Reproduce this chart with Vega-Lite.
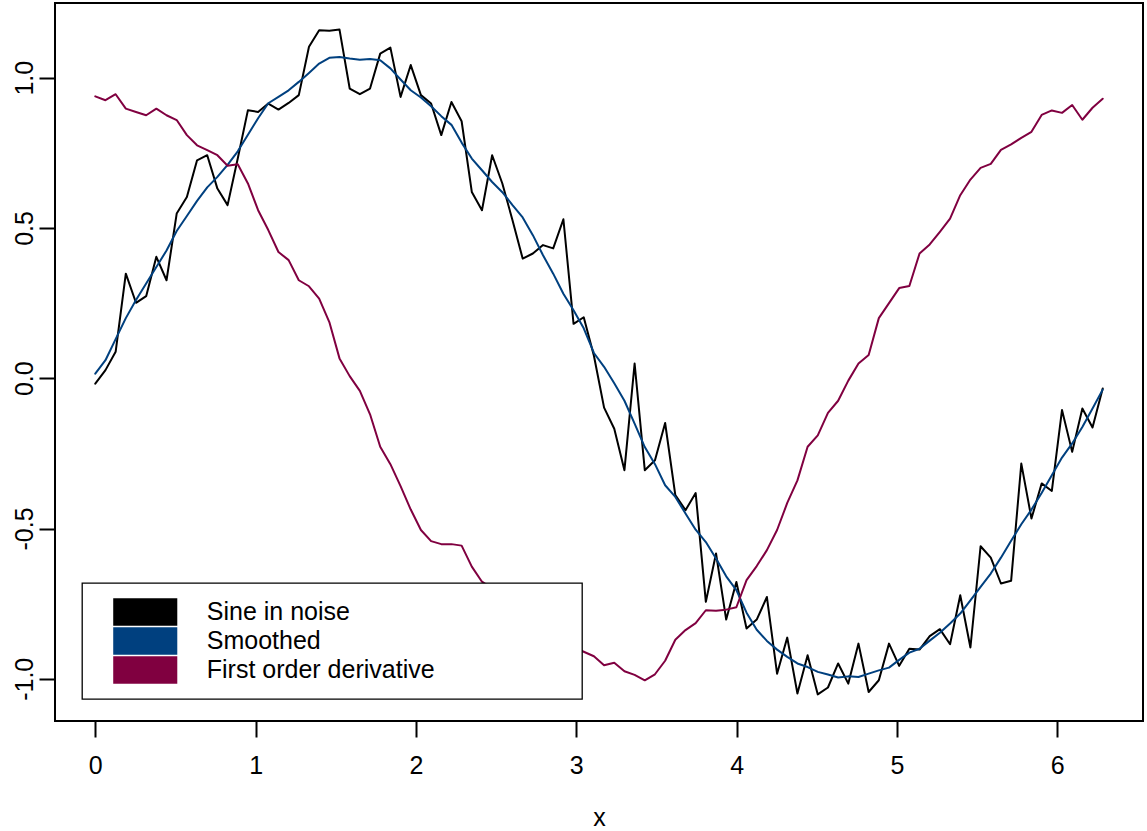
{
  "$schema": "https://vega.github.io/schema/vega-lite/v6.json",
  "width": 1088,
  "height": 718,
  "autosize": {"type": "none"},
  "padding": {"left": 55, "top": 3, "right": 4, "bottom": 110},
  "background": "white",
  "config": {
    "font": "Liberation Sans",
    "view": {"stroke": "black", "strokeWidth": 2}
  },
  "data": {
    "values": [
      {"x": 0, "Sine in noise": -0.018, "Smoothed": 0.015, "First order derivative": 0.938},
      {"x": 0.0635, "Sine in noise": 0.027, "Smoothed": 0.06, "First order derivative": 0.925},
      {"x": 0.1269, "Sine in noise": 0.088, "Smoothed": 0.13, "First order derivative": 0.945},
      {"x": 0.1904, "Sine in noise": 0.348, "Smoothed": 0.2, "First order derivative": 0.897},
      {"x": 0.2539, "Sine in noise": 0.251, "Smoothed": 0.26, "First order derivative": 0.886},
      {"x": 0.3173, "Sine in noise": 0.273, "Smoothed": 0.315, "First order derivative": 0.875},
      {"x": 0.3808, "Sine in noise": 0.404, "Smoothed": 0.37, "First order derivative": 0.897},
      {"x": 0.4443, "Sine in noise": 0.326, "Smoothed": 0.425, "First order derivative": 0.875},
      {"x": 0.5077, "Sine in noise": 0.548, "Smoothed": 0.49, "First order derivative": 0.859},
      {"x": 0.5712, "Sine in noise": 0.603, "Smoothed": 0.54, "First order derivative": 0.809},
      {"x": 0.6347, "Sine in noise": 0.725, "Smoothed": 0.59, "First order derivative": 0.775},
      {"x": 0.6981, "Sine in noise": 0.742, "Smoothed": 0.635, "First order derivative": 0.759},
      {"x": 0.7616, "Sine in noise": 0.631, "Smoothed": 0.67, "First order derivative": 0.742},
      {"x": 0.8251, "Sine in noise": 0.576, "Smoothed": 0.71, "First order derivative": 0.707},
      {"x": 0.8885, "Sine in noise": 0.731, "Smoothed": 0.755, "First order derivative": 0.712},
      {"x": 0.952, "Sine in noise": 0.892, "Smoothed": 0.81, "First order derivative": 0.648},
      {"x": 1.0155, "Sine in noise": 0.886, "Smoothed": 0.865, "First order derivative": 0.559},
      {"x": 1.0789, "Sine in noise": 0.914, "Smoothed": 0.915, "First order derivative": 0.493},
      {"x": 1.1424, "Sine in noise": 0.894, "Smoothed": 0.936, "First order derivative": 0.42},
      {"x": 1.2059, "Sine in noise": 0.916, "Smoothed": 0.958, "First order derivative": 0.393},
      {"x": 1.2693, "Sine in noise": 0.942, "Smoothed": 0.986, "First order derivative": 0.326},
      {"x": 1.3328, "Sine in noise": 1.103, "Smoothed": 1.016, "First order derivative": 0.306},
      {"x": 1.3963, "Sine in noise": 1.158, "Smoothed": 1.047, "First order derivative": 0.265},
      {"x": 1.4597, "Sine in noise": 1.156, "Smoothed": 1.066, "First order derivative": 0.187},
      {"x": 1.5232, "Sine in noise": 1.16, "Smoothed": 1.069, "First order derivative": 0.066},
      {"x": 1.5867, "Sine in noise": 0.964, "Smoothed": 1.064, "First order derivative": 0.007},
      {"x": 1.6501, "Sine in noise": 0.945, "Smoothed": 1.06, "First order derivative": -0.042},
      {"x": 1.7136, "Sine in noise": 0.964, "Smoothed": 1.062, "First order derivative": -0.12},
      {"x": 1.7771, "Sine in noise": 1.08, "Smoothed": 1.058, "First order derivative": -0.228},
      {"x": 1.8405, "Sine in noise": 1.1, "Smoothed": 1.031, "First order derivative": -0.286},
      {"x": 1.904, "Sine in noise": 0.936, "Smoothed": 0.994, "First order derivative": -0.359},
      {"x": 1.9675, "Sine in noise": 1.042, "Smoothed": 0.958, "First order derivative": -0.437},
      {"x": 2.0309, "Sine in noise": 0.942, "Smoothed": 0.934, "First order derivative": -0.505},
      {"x": 2.0944, "Sine in noise": 0.914, "Smoothed": 0.905, "First order derivative": -0.542},
      {"x": 2.1579, "Sine in noise": 0.809, "Smoothed": 0.872, "First order derivative": -0.552},
      {"x": 2.2213, "Sine in noise": 0.919, "Smoothed": 0.843, "First order derivative": -0.552},
      {"x": 2.2848, "Sine in noise": 0.855, "Smoothed": 0.784, "First order derivative": -0.557},
      {"x": 2.3483, "Sine in noise": 0.62, "Smoothed": 0.731, "First order derivative": -0.627},
      {"x": 2.4117, "Sine in noise": 0.559, "Smoothed": 0.692, "First order derivative": -0.677},
      {"x": 2.4752, "Sine in noise": 0.742, "Smoothed": 0.653, "First order derivative": -0.7},
      {"x": 2.5387, "Sine in noise": 0.648, "Smoothed": 0.619, "First order derivative": -0.735},
      {"x": 2.6021, "Sine in noise": 0.526, "Smoothed": 0.576, "First order derivative": -0.76},
      {"x": 2.6656, "Sine in noise": 0.398, "Smoothed": 0.535, "First order derivative": -0.79},
      {"x": 2.7291, "Sine in noise": 0.415, "Smoothed": 0.476, "First order derivative": -0.81},
      {"x": 2.7925, "Sine in noise": 0.443, "Smoothed": 0.409, "First order derivative": -0.835},
      {"x": 2.856, "Sine in noise": 0.432, "Smoothed": 0.348, "First order derivative": -0.86},
      {"x": 2.9195, "Sine in noise": 0.529, "Smoothed": 0.281, "First order derivative": -0.875},
      {"x": 2.9829, "Sine in noise": 0.181, "Smoothed": 0.226, "First order derivative": -0.895},
      {"x": 3.0464, "Sine in noise": 0.203, "Smoothed": 0.166, "First order derivative": -0.91},
      {"x": 3.1099, "Sine in noise": 0.075, "Smoothed": 0.084, "First order derivative": -0.925},
      {"x": 3.1733, "Sine in noise": -0.098, "Smoothed": 0.038, "First order derivative": -0.955},
      {"x": 3.2368, "Sine in noise": -0.168, "Smoothed": -0.017, "First order derivative": -0.947},
      {"x": 3.3003, "Sine in noise": -0.306, "Smoothed": -0.075, "First order derivative": -0.975},
      {"x": 3.3637, "Sine in noise": 0.049, "Smoothed": -0.151, "First order derivative": -0.987},
      {"x": 3.4272, "Sine in noise": -0.306, "Smoothed": -0.229, "First order derivative": -1.005},
      {"x": 3.4907, "Sine in noise": -0.273, "Smoothed": -0.286, "First order derivative": -0.985},
      {"x": 3.5541, "Sine in noise": -0.149, "Smoothed": -0.356, "First order derivative": -0.94},
      {"x": 3.6176, "Sine in noise": -0.389, "Smoothed": -0.395, "First order derivative": -0.87},
      {"x": 3.6811, "Sine in noise": -0.439, "Smoothed": -0.45, "First order derivative": -0.838},
      {"x": 3.7445, "Sine in noise": -0.382, "Smoothed": -0.504, "First order derivative": -0.815},
      {"x": 3.808, "Sine in noise": -0.744, "Smoothed": -0.545, "First order derivative": -0.772},
      {"x": 3.8715, "Sine in noise": -0.583, "Smoothed": -0.6, "First order derivative": -0.774},
      {"x": 3.9349, "Sine in noise": -0.803, "Smoothed": -0.659, "First order derivative": -0.77},
      {"x": 3.9984, "Sine in noise": -0.678, "Smoothed": -0.705, "First order derivative": -0.762},
      {"x": 4.0619, "Sine in noise": -0.833, "Smoothed": -0.78, "First order derivative": -0.672},
      {"x": 4.1253, "Sine in noise": -0.803, "Smoothed": -0.837, "First order derivative": -0.625},
      {"x": 4.1888, "Sine in noise": -0.728, "Smoothed": -0.874, "First order derivative": -0.572},
      {"x": 4.2523, "Sine in noise": -0.983, "Smoothed": -0.903, "First order derivative": -0.505},
      {"x": 4.3157, "Sine in noise": -0.863, "Smoothed": -0.927, "First order derivative": -0.415},
      {"x": 4.3792, "Sine in noise": -1.049, "Smoothed": -0.949, "First order derivative": -0.34},
      {"x": 4.4427, "Sine in noise": -0.922, "Smoothed": -0.961, "First order derivative": -0.228},
      {"x": 4.5061, "Sine in noise": -1.052, "Smoothed": -0.977, "First order derivative": -0.19},
      {"x": 4.5696, "Sine in noise": -1.029, "Smoothed": -0.986, "First order derivative": -0.115},
      {"x": 4.6331, "Sine in noise": -0.949, "Smoothed": -0.996, "First order derivative": -0.075},
      {"x": 4.6965, "Sine in noise": -1.016, "Smoothed": -0.992, "First order derivative": -0.008},
      {"x": 4.76, "Sine in noise": -0.883, "Smoothed": -0.994, "First order derivative": 0.049},
      {"x": 4.8235, "Sine in noise": -1.044, "Smoothed": -0.983, "First order derivative": 0.077},
      {"x": 4.8869, "Sine in noise": -1.005, "Smoothed": -0.972, "First order derivative": 0.2},
      {"x": 4.9504, "Sine in noise": -0.883, "Smoothed": -0.963, "First order derivative": 0.25},
      {"x": 5.0139, "Sine in noise": -0.957, "Smoothed": -0.937, "First order derivative": 0.3},
      {"x": 5.0773, "Sine in noise": -0.9, "Smoothed": -0.913, "First order derivative": 0.307},
      {"x": 5.1408, "Sine in noise": -0.903, "Smoothed": -0.9, "First order derivative": 0.415},
      {"x": 5.2043, "Sine in noise": -0.858, "Smoothed": -0.873, "First order derivative": 0.445},
      {"x": 5.2677, "Sine in noise": -0.835, "Smoothed": -0.847, "First order derivative": 0.487},
      {"x": 5.3312, "Sine in noise": -0.885, "Smoothed": -0.816, "First order derivative": 0.531},
      {"x": 5.3947, "Sine in noise": -0.722, "Smoothed": -0.783, "First order derivative": 0.609},
      {"x": 5.4581, "Sine in noise": -0.896, "Smoothed": -0.739, "First order derivative": 0.661},
      {"x": 5.5216, "Sine in noise": -0.559, "Smoothed": -0.694, "First order derivative": 0.7},
      {"x": 5.5851, "Sine in noise": -0.597, "Smoothed": -0.65, "First order derivative": 0.713},
      {"x": 5.6485, "Sine in noise": -0.683, "Smoothed": -0.597, "First order derivative": 0.76},
      {"x": 5.712, "Sine in noise": -0.674, "Smoothed": -0.541, "First order derivative": 0.778},
      {"x": 5.7755, "Sine in noise": -0.284, "Smoothed": -0.486, "First order derivative": 0.8},
      {"x": 5.8389, "Sine in noise": -0.467, "Smoothed": -0.437, "First order derivative": 0.82},
      {"x": 5.9024, "Sine in noise": -0.35, "Smoothed": -0.382, "First order derivative": 0.876},
      {"x": 5.9659, "Sine in noise": -0.375, "Smoothed": -0.323, "First order derivative": 0.891},
      {"x": 6.0293, "Sine in noise": -0.106, "Smoothed": -0.264, "First order derivative": 0.883},
      {"x": 6.0928, "Sine in noise": -0.245, "Smoothed": -0.217, "First order derivative": 0.909},
      {"x": 6.1563, "Sine in noise": -0.101, "Smoothed": -0.162, "First order derivative": 0.86},
      {"x": 6.2197, "Sine in noise": -0.164, "Smoothed": -0.101, "First order derivative": 0.9},
      {"x": 6.2832, "Sine in noise": -0.034, "Smoothed": -0.038, "First order derivative": 0.93}
    ]
  },
  "transform": [
    {"fold": ["Sine in noise", "Smoothed", "First order derivative"], "as": ["series", "value"]}
  ],
  "mark": {"type": "line", "strokeWidth": 2, "strokeJoin": "round", "strokeCap": "round"},
  "encoding": {
    "x": {
      "field": "x",
      "type": "quantitative",
      "scale": {"domain": [-0.2513, 6.5345], "nice": false, "zero": false},
      "axis": {
        "values": [0, 1, 2, 3, 4, 5, 6],
        "domain": false,
        "grid": false,
        "tickSize": 16,
        "tickWidth": 2,
        "tickColor": "black",
        "labelFontSize": 25,
        "labelColor": "black",
        "labelPadding": 16,
        "labelFlush": false,
        "labelOverlap": false,
        "title": "x",
        "titleFontSize": 25,
        "titleFontWeight": "normal",
        "titleColor": "black",
        "titlePadding": 27
      }
    },
    "y": {
      "field": "value",
      "type": "quantitative",
      "scale": {"domain": [-1.1405, 1.2485], "nice": false, "zero": false},
      "axis": {
        "values": [-1, -0.5, 0, 0.5, 1],
        "labelExpr": "replace(format(datum.value, '.1f'), '\u2212', '-')",
        "domain": false,
        "grid": false,
        "tickSize": 16,
        "tickWidth": 2,
        "tickColor": "black",
        "labelFontSize": 25,
        "labelColor": "black",
        "labelAngle": -90,
        "labelAlign": "center",
        "labelBaseline": "alphabetic",
        "labelPadding": 7,
        "labelFlush": false,
        "labelOverlap": false,
        "title": null
      }
    },
    "color": {
      "field": "series",
      "type": "nominal",
      "scale": {
        "domain": ["Sine in noise", "Smoothed", "First order derivative"],
        "range": ["#000000", "#00407F", "#800040"]
      },
      "legend": {
        "title": null,
        "orient": "none",
        "legendX": 27,
        "legendY": 580,
        "direction": "vertical",
        "fillColor": "white",
        "strokeColor": "black",
        "padding": 15,
        "symbolType": "M-2.33,-1L2.33,-1L2.33,1L-2.33,1Z",
        "symbolSize": 756,
        "symbolStrokeWidth": 0,
        "symbolOffset": 34.25,
        "labelOffset": 47.5,
        "labelFontSize": 25,
        "labelColor": "black",
        "labelLimit": 0,
        "labelExpr": "datum.label + '\u00a0\u00a0\u00a0\u00a0\u00a0\u00a0\u00a0\u00a0\u00a0\u00a0\u00a0\u00a0\u00a0\u00a0\u00a0\u00a0\u00a0\u00a0\u00a0\u200b'",
        "rowPadding": 1,
        "encode": {
          "symbols": {"update": {"fill": {"scale": "color", "field": "value"}, "stroke": {"value": "transparent"}}},
          "legend": {"update": {"strokeWidth": {"value": 1.3}}}
        }
      }
    }
  }
}
